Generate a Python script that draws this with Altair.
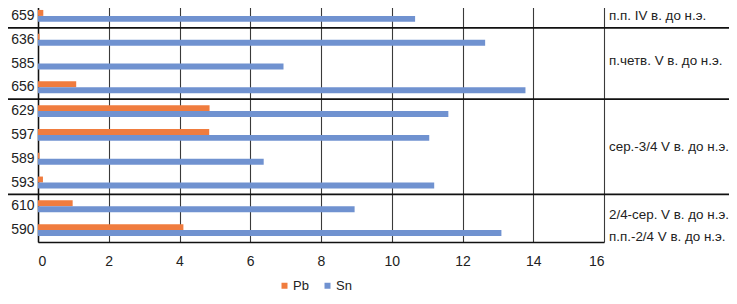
import altair as alt
import pandas as pd

samples = ["659", "636", "585", "656", "629", "597", "589", "593", "610", "590"]
pb = [0.15, 0.04, 0.0, 1.08, 4.85, 4.84, 0.04, 0.14, 0.98, 4.11]
sn = [10.66, 12.64, 6.94, 13.78, 11.60, 11.06, 6.38, 11.20, 8.95, 13.10]
series = ["Pb", "Sn"]
colors = ["#F07C3E", "#7092D0"]
x_ticks = [0, 2, 4, 6, 8, 10, 12, 14, 16]

periods = ["п.п. IV в. до н.э.", "п.четв. V в. до н.э.", "сер.-3/4 V в. до н.э.",
           "2/4-сер. V в. до н.э.", "п.п.-2/4 V в. до н.э."]
period_rows = ["659", "585", "597", "610", "590"]
period_dy = [0, -3, 12.5, 9, 6.5]
separators_before = ["636", "629", "610"]

W, H = 566, 238
PAD_L, PAD_T = 30, -4
PAD_R = 721 - PAD_L - W
PAD_B = 288 - PAD_T - H
FONT = "Liberation Sans"

rows = []
for s, a, b in zip(samples, pb, sn):
    rows.append({"sample": s, "series": "Pb", "value": a})
    rows.append({"sample": s, "series": "Sn", "value": b})
df = pd.DataFrame(rows)

yscale = alt.Scale(domain=samples, paddingInner=0, paddingOuter=0)

bars = alt.Chart(df).mark_bar().encode(
    y=alt.Y("sample:N", scale=yscale, sort=samples, title=None,
            axis=alt.Axis(labelFontSize=14, labelColor="#222", labelFont=FONT,
                          ticks=False, domainColor="#111", domainWidth=1.5,
                          labelPadding=4)),
    yOffset=alt.YOffset("series:N", sort=series,
                        scale=alt.Scale(paddingInner=0, paddingOuter=1)),
    x=alt.X("value:Q", scale=alt.Scale(domain=[0, 16], nice=False), title=None,
            axis=alt.Axis(values=x_ticks, grid=True, gridColor="#3a3a3a", gridWidth=1.1,
                          ticks=False, domainColor="#111", domainWidth=1.5,
                          labelFontSize=14, labelColor="#222", labelFont=FONT,
                          labelPadding=12)),
    color=alt.Color("series:N", scale=alt.Scale(domain=series, range=colors),
                    title=None,
                    legend=alt.Legend(orient="none", legendX=240, legendY=275,
                                      direction="horizontal", symbolType="square",
                                      symbolSize=36, labelFontSize=13, labelFont=FONT,
                                      labelColor="#222", columnPadding=12, labelOffset=2,
                                      symbolStrokeWidth=0)),
)

sep_df = pd.DataFrame({"sample": separators_before})
seps = alt.Chart(sep_df).mark_rule(color="#111", strokeWidth=1.8).encode(
    y=alt.Y("sample:N", scale=yscale, sort=samples, bandPosition=0),
    x=alt.value(-PAD_L),
    x2=alt.value(W + PAD_R),
)

layers = [bars, seps]
for label, row, dy in zip(periods, period_rows, period_dy):
    t = alt.Chart(pd.DataFrame({"sample": [row], "label": [label]})).mark_text(
        align="left", baseline="middle", fontSize=13.4, font=FONT, color="#222", dy=dy
    ).encode(
        y=alt.Y("sample:N", scale=yscale, sort=samples),
        x=alt.value(571),
        text="label:N",
    )
    layers.append(t)

chart = alt.layer(*layers).properties(
    width=W, height=H,
    autosize=alt.AutoSizeParams(type="none"),
    padding={"left": PAD_L, "top": PAD_T, "right": PAD_R, "bottom": PAD_B},
).configure_view(stroke=None)

chart.save("out.html", embed_options={"renderer": "svg", "actions": False})
